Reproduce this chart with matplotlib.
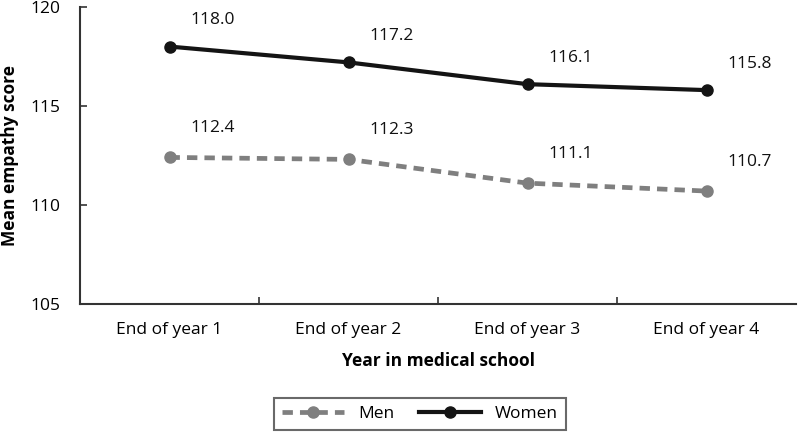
import matplotlib.pyplot as plt
from matplotlib.ticker import FixedLocator

years = ["End of year 1", "End of year 2", "End of year 3", "End of year 4"]
men = [112.4, 112.3, 111.1, 110.7]
women = [118.0, 117.2, 116.1, 115.8]
y_ticks = [105, 110, 115, 120]

plt.rcParams["font.family"] = ["Open Sans", "DejaVu Sans"]

fig = plt.figure(figsize=(8, 4.36), dpi=100)
ax = fig.add_axes([0.1, 0.303, 0.895, 0.681])

x = list(range(len(years)))
ax.plot(x, men, color="#7f7f7f", lw=3.4, ls=(0, (2.2, 1.5)), marker="o", ms=8, label="Men")
ax.plot(x, women, color="#141414", lw=3, marker="o", ms=8, label="Women")

for xi, v in zip(x, men):
    ax.annotate(f"{v:.1f}", (xi, v), xytext=(31, 21), textcoords="offset points",
                ha="center", va="center", fontsize=12.5, color="#111111")
for xi, v in zip(x, women):
    ax.annotate(f"{v:.1f}", (xi, v), xytext=(31, 19), textcoords="offset points",
                ha="center", va="center", fontsize=12.5, color="#111111")

ax.set_xlim(-0.5, 3.5)
ax.set_ylim(105, 120)
ax.set_yticks(y_ticks)
ax.set_xticks(x)
ax.set_xticklabels(years)
ax.xaxis.set_minor_locator(FixedLocator([0.5, 1.5, 2.5]))
ax.tick_params(axis="x", which="major", length=0, pad=13, labelsize=12.5)
ax.tick_params(axis="x", which="minor", direction="in", length=5, width=1.2, color="#333333")
ax.tick_params(axis="y", direction="in", length=5, width=1.2, color="#333333", pad=14, labelsize=12.5)

for side in ["top", "right"]:
    ax.spines[side].set_visible(False)
for side in ["left", "bottom"]:
    ax.spines[side].set_linewidth(1.5)
    ax.spines[side].set_color("#333333")

ax.set_xlabel("Year in medical school", fontsize=12.5, fontweight="bold", labelpad=10)
ax.set_ylabel("Mean empathy score", fontsize=12.5, fontweight="bold", labelpad=8)

leg = fig.legend(loc="center", bbox_to_anchor=(0.525, 0.05), ncol=2, fontsize=12.5,
                 frameon=True, fancybox=False, edgecolor="#444444", handlelength=3.6,
                 columnspacing=1.4, borderpad=0.45)
leg.get_frame().set_linewidth(1.5)

fig.savefig("out.png", dpi=100)
